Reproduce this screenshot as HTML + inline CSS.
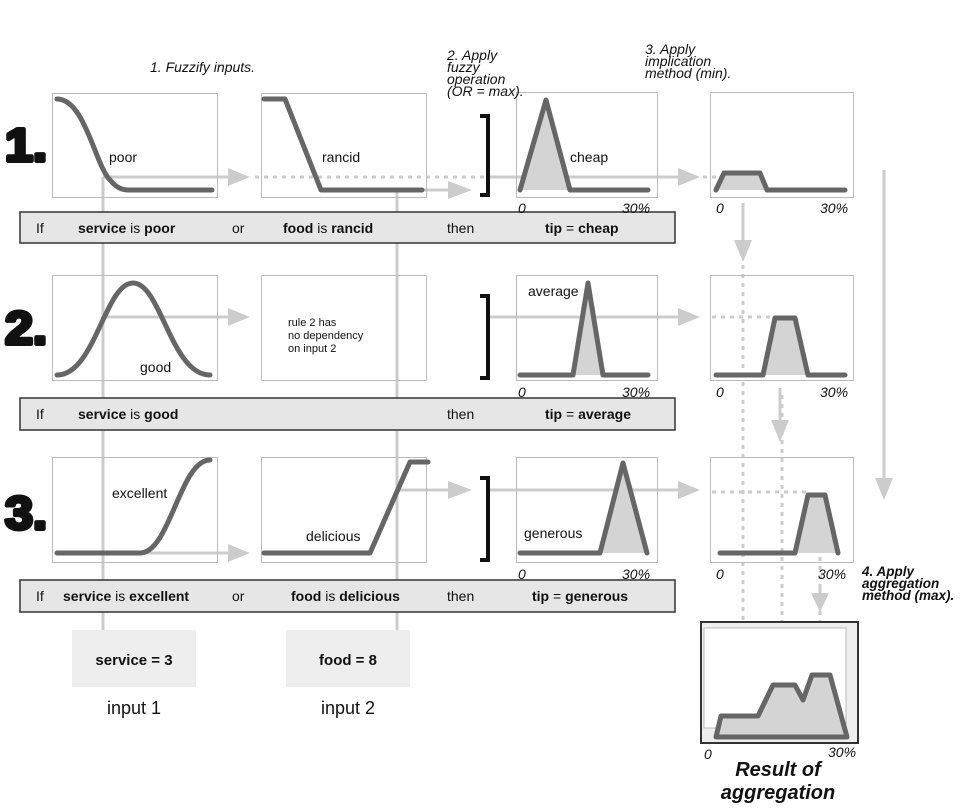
<!DOCTYPE html>
<html><head><meta charset="utf-8"><style>
body{margin:0;background:#fff}
svg text{font-family:"Liberation Sans",sans-serif}
</style></head><body>
<svg width="964" height="804" viewBox="0 0 964 804" xmlns="http://www.w3.org/2000/svg">
<g fill="none" stroke="#ccc" stroke-width="3">
<line x1="103" y1="177" x2="103" y2="630"/>
<line x1="397" y1="190" x2="397" y2="630"/>
<line x1="103" y1="177" x2="235" y2="177"/><path d="M228,168 L250,177 L228,186z" fill="#ccc" stroke="none"/>
<line x1="255" y1="177" x2="490" y2="177" stroke-dasharray="4,5"/>
<line x1="490" y1="177" x2="685" y2="177"/><path d="M678,168 L700,177 L678,186z" fill="#ccc" stroke="none"/>
<line x1="703" y1="177" x2="722" y2="177" stroke-dasharray="4,5"/>
<line x1="420" y1="190" x2="455" y2="190"/><path d="M448,181 L472,190 L448,199z" fill="#ccc" stroke="none"/>
<line x1="103" y1="317" x2="235" y2="317"/><path d="M228,308 L250,317 L228,326z" fill="#ccc" stroke="none"/>
<line x1="490" y1="317" x2="685" y2="317"/><path d="M678,308 L700,317 L678,326z" fill="#ccc" stroke="none"/>
<line x1="712" y1="317" x2="775" y2="317" stroke-dasharray="4,5"/>
<line x1="103" y1="553" x2="235" y2="553"/><path d="M228,544 L250,553 L228,562z" fill="#ccc" stroke="none"/>
<line x1="397" y1="490" x2="455" y2="490"/><path d="M448,481 L472,490 L448,499z" fill="#ccc" stroke="none"/>
<line x1="490" y1="490" x2="685" y2="490"/><path d="M678,481 L700,490 L678,499z" fill="#ccc" stroke="none"/>
<line x1="712" y1="492" x2="810" y2="492" stroke-dasharray="4,5"/>
<line x1="743" y1="203" x2="743" y2="245"/><path d="M734,240 L743,262 L752,240z" fill="#ccc" stroke="none"/>
<line x1="780" y1="388" x2="780" y2="425"/><path d="M771,420 L780,442 L789,420z" fill="#ccc" stroke="none"/>
<line x1="884" y1="170" x2="884" y2="485"/><path d="M875,478 L884,500 L893,478z" fill="#ccc" stroke="none"/>
<line x1="820" y1="585" x2="820" y2="598"/><path d="M811,593 L820,612 L829,593z" fill="#ccc" stroke="none"/>
<line x1="743" y1="265" x2="743" y2="735" stroke-dasharray="4,5"/>
<line x1="782" y1="395" x2="782" y2="690" stroke-dasharray="4,5"/>
<line x1="820" y1="530" x2="820" y2="675" stroke-dasharray="4,5"/>
</g>
<g fill="none" stroke="#bbb" stroke-width="1">
<rect x="52.5" y="93.5" width="165" height="104"/><rect x="261.5" y="93.5" width="165" height="104"/>
<rect x="516.5" y="92.5" width="141" height="105"/><rect x="710.5" y="92.5" width="143" height="105"/>
<rect x="52.5" y="275.5" width="165" height="105"/><rect x="261.5" y="275.5" width="165" height="105"/>
<rect x="516.5" y="275.5" width="141" height="105"/><rect x="710.5" y="275.5" width="143" height="105"/>
<rect x="52.5" y="457.5" width="165" height="105"/><rect x="261.5" y="457.5" width="165" height="105"/>
<rect x="516.5" y="457.5" width="141" height="105"/><rect x="710.5" y="457.5" width="143" height="105"/>
</g>
<g fill="#e6e6e6" stroke="#333" stroke-width="1.5">
<rect x="20" y="212" width="655" height="31"/><rect x="20" y="398" width="655" height="32"/><rect x="20" y="580" width="655" height="32"/>
</g>
<g font-size="14" fill="#111">
<text x="36" y="233">If</text><text x="78" y="233"><tspan font-weight="bold">service</tspan> is <tspan font-weight="bold">poor</tspan></text><text x="232" y="233">or</text><text x="283" y="233"><tspan font-weight="bold">food</tspan> is <tspan font-weight="bold">rancid</tspan></text><text x="447" y="233">then</text><text x="545" y="233"><tspan font-weight="bold">tip</tspan> = <tspan font-weight="bold">cheap</tspan></text>
<text x="36" y="419">If</text><text x="78" y="419"><tspan font-weight="bold">service</tspan> is <tspan font-weight="bold">good</tspan></text><text x="447" y="419">then</text><text x="545" y="419"><tspan font-weight="bold">tip</tspan> = <tspan font-weight="bold">average</tspan></text>
<text x="36" y="601">If</text><text x="63" y="601"><tspan font-weight="bold">service</tspan> is <tspan font-weight="bold">excellent</tspan></text><text x="232" y="601">or</text><text x="291" y="601"><tspan font-weight="bold">food</tspan> is <tspan font-weight="bold">delicious</tspan></text><text x="447" y="601">then</text><text x="532" y="601"><tspan font-weight="bold">tip</tspan> = <tspan font-weight="bold">generous</tspan></text>
</g>
<g fill="#d4d4d4" stroke="none">
<path d="M520,190 L546,100 L570,190z"/><path d="M716,190 L724,173 L760,173 L767,190z"/>
<path d="M573,375 L588,283 L603,375z"/><path d="M763,375 L775,318 L795,318 L808,375z"/>
<path d="M600,553 L623,463 L647,553z"/><path d="M795,553 L808,495 L825,495 L838,553z"/>
</g>
<g fill="none" stroke="#666" stroke-width="5" stroke-linecap="round" stroke-linejoin="round">
<path d="M57,99 C85,99 95,165 110,180 C118,190 125,190 130,190 L212,190"/>
<path d="M264,99 L285,99 L321,190 L422,190"/>
<path d="M520,190 L546,100 L570,190 L648,190"/>
<path d="M716,190 L724,173 L760,173 L767,190 L845,190"/>
<path d="M57,375 C95,375 105,283 133,283 C161,283 171,375 210,375"/>
<path d="M520,375 L573,375 L588,283 L603,375 L648,375"/>
<path d="M716,375 L763,375 L775,318 L795,318 L808,375 L845,375"/>
<path d="M57,553 L140,553 C170,553 180,460 210,460"/>
<path d="M264,553 L370,553 L410,462 L428,462"/>
<path d="M520,553 L600,553 L623,463 L647,553"/>
<path d="M720,553 L795,553 L808,495 L825,495 L838,553"/>
</g>
<g fill="none" stroke="#111" stroke-width="4">
<path d="M480,116 L488,116 L488,195 L480,195"/>
<path d="M480,296 L488,296 L488,378 L480,378"/>
<path d="M480,478 L488,478 L488,560 L480,560"/>
</g>
<g font-size="14" fill="#111">
<text x="109" y="162">poor</text><text x="322" y="162">rancid</text><text x="570" y="162">cheap</text>
<text x="140" y="372">good</text><text x="528" y="296">average</text>
<text x="112" y="498">excellent</text><text x="306" y="541">delicious</text><text x="524" y="538">generous</text>
</g>
<text x="288" y="326" font-size="11" fill="#111">rule 2 has</text>
<text x="288" y="339" font-size="11" fill="#111">no dependency</text>
<text x="288" y="352" font-size="11" fill="#111">on input 2</text>
<g font-size="14" font-style="italic" fill="#111">
<text x="518" y="213">0</text><text x="622" y="213">30%</text><text x="716" y="213">0</text><text x="820" y="213">30%</text>
<text x="518" y="397">0</text><text x="622" y="397">30%</text><text x="716" y="397">0</text><text x="820" y="397">30%</text>
<text x="518" y="579">0</text><text x="622" y="579">30%</text><text x="716" y="579">0</text><text x="818" y="579">30%</text>
<text x="704" y="759">0</text><text x="828" y="757">30%</text>
</g>
<g font-size="14" font-style="italic" fill="#111">
<text x="150" y="72">1. Fuzzify inputs.</text>
<text x="447" y="60">2. Apply</text><text x="447" y="72">fuzzy</text><text x="447" y="84">operation</text><text x="447" y="96">(OR = max).</text>
<text x="645" y="54">3. Apply</text><text x="645" y="66">implication</text><text x="645" y="78">method (min).</text>
</g>
<g font-size="13.5" font-style="italic" font-weight="bold" fill="#111">
<text x="862" y="576">4. Apply</text><text x="862" y="588">aggregation</text><text x="862" y="600">method (max).</text>
</g>
<g font-size="46" font-weight="900" fill="#111" stroke="#111" stroke-width="4" stroke-linejoin="round">
<text x="5" y="161" textLength="42" lengthAdjust="spacingAndGlyphs">1.</text>
<text x="5" y="344" textLength="42" lengthAdjust="spacingAndGlyphs">2.</text>
<text x="5" y="529" textLength="42" lengthAdjust="spacingAndGlyphs">3.</text>
</g>
<rect x="72" y="630" width="124" height="57" fill="#eee"/>
<rect x="286" y="630" width="124" height="57" fill="#eee"/>
<text x="134" y="665" font-size="15" font-weight="bold" text-anchor="middle" fill="#111">service = 3</text>
<text x="348" y="665" font-size="15" font-weight="bold" text-anchor="middle" fill="#111">food = 8</text>
<text x="134" y="714" font-size="18" text-anchor="middle" fill="#111">input 1</text>
<text x="348" y="714" font-size="18" text-anchor="middle" fill="#111">input 2</text>
<rect x="701" y="622" width="157" height="121" fill="#eee" stroke="#333" stroke-width="2"/>
<rect x="704" y="628" width="142" height="100" fill="#fff" stroke="#bbb"/>
<path d="M716,737 L721,716 L758,716 L773,685 L795,685 L803,700 L812,675 L830,675 L847,737z" fill="#d4d4d4" stroke="#666" stroke-width="5" stroke-linejoin="round"/>
<text x="778" y="776" font-size="20" font-weight="bold" font-style="italic" text-anchor="middle" fill="#111">Result of</text>
<text x="778" y="799" font-size="20" font-weight="bold" font-style="italic" text-anchor="middle" fill="#111">aggregation</text>
</svg>
</body></html>
